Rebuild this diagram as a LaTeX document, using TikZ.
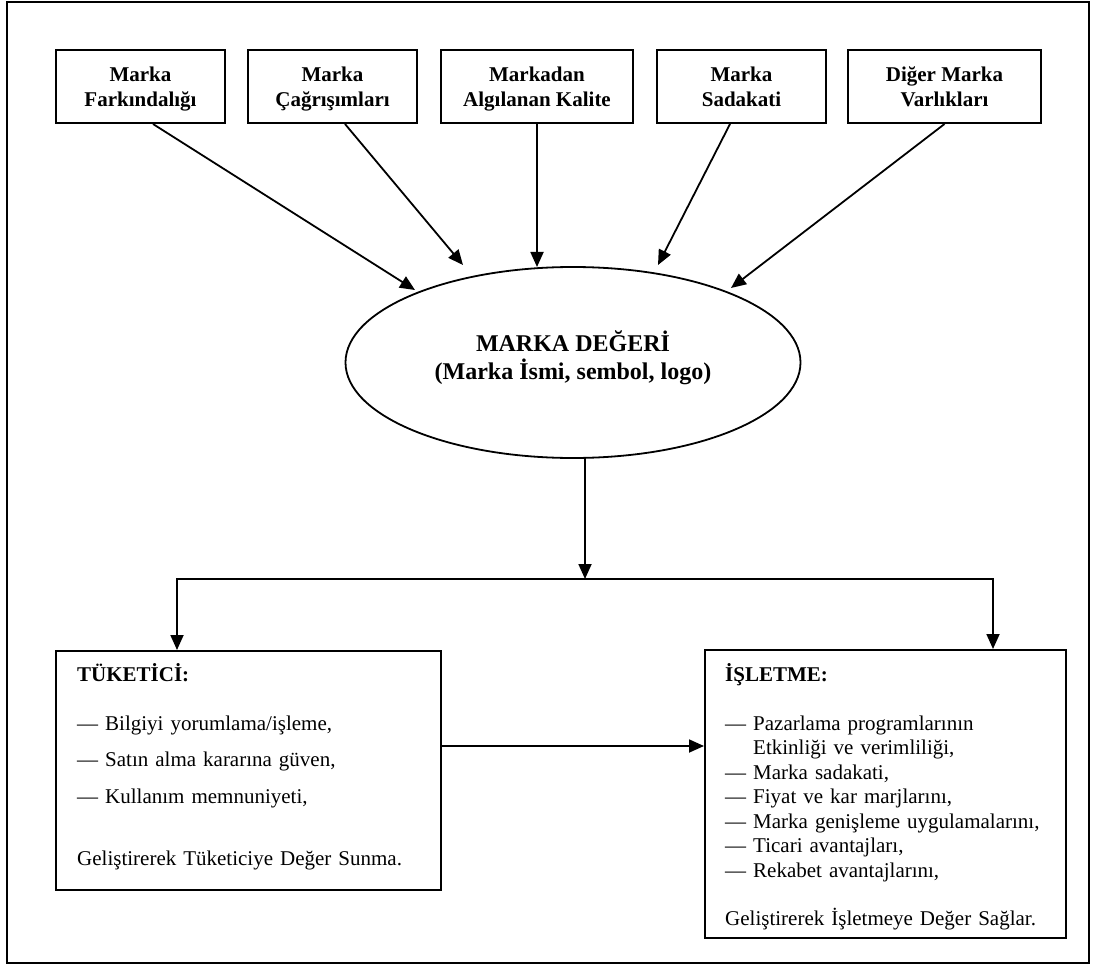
\documentclass[tikz,border=0pt]{standalone}
\usepackage{fontspec}
\setmainfont{Liberation Serif}
\usetikzlibrary{shapes.geometric,arrows.meta}
% two centred lines with fixed outer height and depth, so every box sets its baselines alike
\newcommand\boxlines[2]{\rule{0pt}{22pt}#1\\#2\rule[-6pt]{0pt}{6pt}}
\begin{document}
\begin{tikzpicture}[x=1pt,y=-1pt,
  outerframe/.style={draw,line width=2.2pt},
  topbox/.style={draw,line width=2pt,minimum height=73pt,inner sep=0pt,
    align=center,font=\fontsize{21}{25}\selectfont\bfseries},
  infobox/.style={draw,line width=2pt,inner sep=0pt},
  conn/.style={line width=1.8pt,-{Triangle[length=15pt,width=13pt]}},
  body/.style={inner sep=0pt,anchor=base west,align=left}
]
\useasboundingbox (0,0) rectangle (1094,965);
\draw[outerframe] (7,2) rectangle (1089,963);

% brand equity components
\node[topbox,minimum width=169pt] (b1) at (140.5,86.5) {\boxlines{Marka}{Farkındalığı}};
\node[topbox,minimum width=169pt] (b2) at (332.5,86.5) {\boxlines{Marka}{Çağrışımları}};
\node[topbox,minimum width=192pt] (b3) at (537,86.5) {\boxlines{Markadan}{Algılanan Kalite}};
\node[topbox,minimum width=169pt] (b4) at (741.5,86.5) {\boxlines{Marka}{Sadakati}};
\node[topbox,minimum width=193pt] (b5) at (944.5,86.5) {\boxlines{Diğer Marka}{Varlıkları}};

% brand equity
\node[draw,ellipse,line width=1.8pt,minimum width=455pt,minimum height=191pt,
  inner sep=0pt,align=center,font=\fontsize{24}{28}\selectfont\bfseries]
  (val) at (573,362.5) {MARKA DEĞERİ\\(Marka İsmi, sembol, logo)\rule[-14pt]{0pt}{14pt}};

\coordinate (t1) at (415,290);
\coordinate (t2) at (463,265);
\coordinate (t3) at (537,267);
\coordinate (t4) at (658,265);
\coordinate (t5) at (731,288);

\draw[conn] ([xshift=12.5pt]b1.south) -- (t1);
\draw[conn] ([xshift=12.5pt]b2.south) -- (t2);
\draw[conn] (b3.south) -- (t3);
\draw[conn] ([xshift=-11.5pt]b4.south) -- (t4);
\draw[conn] (b5.south) -- (t5);

% value for consumer and firm
\node[infobox,minimum width=385pt,minimum height=239pt] (lbox) at (248.5,770.5) {};
\node[infobox,minimum width=361pt,minimum height=288pt] (rbox) at (885.5,794) {};

\node[body,text width=350pt,font=\fontsize{21}{36.5}\selectfont] (ltext) at (77,681)
  {\textbf{TÜKETİCİ:}\\[12.5pt]
   — Bilgiyi yorumlama/işleme,\\
   — Satın alma kararına güven,\\
   — Kullanım memnuniyeti,\\[26pt]
   Geliştirerek Tüketiciye Değer Sunma.};

\node[body,text width=340pt,font=\fontsize{21}{24.5}\selectfont] (rtext) at (725,681)
  {\textbf{İŞLETME:}\\[24.5pt]
   — Pazarlama programlarının\\
   \hphantom{—\ }Etkinliği ve verimliliği,\\
   — Marka sadakati,\\
   — Fiyat ve kar marjlarını,\\
   — Marka genişleme uygulamalarını,\\
   — Ticari avantajları,\\
   — Rekabet avantajlarını,\\[23.5pt]
   Geliştirerek İşletmeye Değer Sağlar.};

\coordinate (split) at (585,579);
\coordinate (jl) at (177,579);
\coordinate (jr) at (993,579);
\coordinate (mid) at (0,746);

\draw[conn] (split |- val.south) -- (split);
\draw[conn] (split) -- (jl) -- (jl |- lbox.north);
\draw[conn] (split) -- (jr) -- (jr |- rbox.north);
\draw[conn] (lbox.east |- mid) -- (rbox.west |- mid);
\end{tikzpicture}
\end{document}
